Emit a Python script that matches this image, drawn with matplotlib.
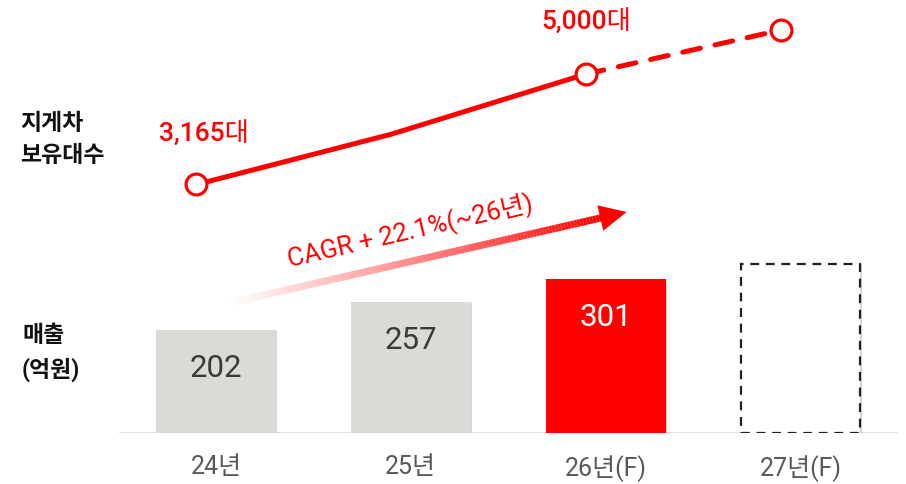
import numpy as np
import matplotlib
matplotlib.use("Agg")
import matplotlib.pyplot as plt
from matplotlib.collections import LineCollection
from matplotlib.patches import Polygon
from matplotlib.transforms import IdentityTransform
import matplotlib.patheffects as pe

FAM = ['Roboto', 'Noto Sans CJK KR', 'DejaVu Sans']
plt.rcParams['font.family'] = FAM

categories = ['24년', '25년', '26년(F)', '27년(F)']
sales = [202, 257, 301, 331]          # 억원 (27년 is an empty forecast box)
sales_labels = ['202', '257', '301', '']
fleet = [3165, 4000, 5000, 5730]      # 지게차 보유대수
fleet_marker = [True, False, True, True]
fleet_labels = {0: '3,165대', 2: '5,000대'}
cagr_text = 'CAGR + 22.1%(~26년)'

RED = '#FF0000'
GREY = '#DCDAD6'

fig = plt.figure(figsize=(9.06, 4.85), dpi=100)
ax = fig.add_axes([118.5 / 906, 1 - 434 / 485, 779.5 / 906, 434 / 485])
ax.set_xlim(-0.5, 3.5)
ax.set_ylim(0, 434 / 0.51)
for s in ax.spines.values():
    s.set_visible(False)
ax.set_yticks([])
x = np.arange(len(categories))
ax.set_xticks(x, categories)
ax.tick_params(axis='x', length=0, pad=15, labelsize=18, labelcolor='#595959')

colors = [GREY, GREY, RED, 'white']
bars = ax.bar(x, sales, width=0.615, color=colors, zorder=2)
shadow = [pe.SimplePatchShadow(offset=(0.8, -0.8), shadow_rgbFace='#888888', alpha=0.35), pe.Normal()]
for i, b in enumerate(bars):
    b.set_path_effects(shadow)
bars[3].set_edgecolor('#222222')
bars[3].set_linestyle((0, (4, 3)))
bars[3].set_linewidth(1.6)
ax.axhline(0, color='#D9D9D9', lw=1.8, zorder=1)

txtcol = ['#3A3A3A', '#3A3A3A', 'white', '#3A3A3A']
for i, (v, lab) in enumerate(zip(sales, sales_labels)):
    if lab:
        ax.annotate(lab, (x[i], v), xytext=(0, -27), textcoords='offset points',
                    ha='center', va='center', fontsize=22.5, color=txtcol[i], zorder=4)

# line axis
ax2 = ax.twinx()
ax2.set_ylim(-962, 6245)
ax2.set_yticks([])
for s in ax2.spines.values():
    s.set_visible(False)
lx = x - 0.1
ax2.plot(lx[:3], fleet[:3], color=RED, lw=3.6, solid_capstyle='round', zorder=3)
ax2.plot(lx[2:], fleet[2:], color=RED, lw=3.6, ls=(0, (3.6, 3.0)), dash_capstyle='round', zorder=3)
mk = np.array(fleet_marker)
ax2.plot(lx[mk], np.array(fleet)[mk], ls='none', marker='o', ms=15, mfc='white', mec=RED, mew=2.3, zorder=4)
offs = {0: (5.5, 37), 2: (0, 38)}
for i, lab in fleet_labels.items():
    ax2.annotate(lab, (lx[i], fleet[i]), xytext=offs[i], textcoords='offset points',
                 ha='center', va='center', fontsize=19, color=RED, fontweight='medium')

# CAGR gradient arrow (in bar-axis coords)
tail = np.array([(225 - 216) / 195, (434 - 305) / 0.51])
tip = np.array([(627 - 216) / 195, (434 - 213) / 0.51])
fig.canvas.draw()
T = ax.transData
p0 = T.transform(tail)
p1 = T.transform(tip)
d = (p1 - p0) / np.linalg.norm(p1 - p0)
nrm = np.array([-d[1], d[0]])
head_len = 27
head_w = 13
base = p1 - d * head_len
n = 120
pts = np.linspace(p0, base + d * 2, n + 1)
segs = np.stack([pts[:-1], pts[1:]], axis=1)
alphas = np.linspace(0.0, 1.0, n) ** 1.1
cols = np.zeros((n, 4))
cols[:, 0] = 1.0
cols[:, 3] = alphas
lc = LineCollection(segs, colors=cols, linewidths=5.2, transform=IdentityTransform(), capstyle='butt', zorder=3)
ax.add_collection(lc)
head = Polygon([p1, base + nrm * head_w, base - nrm * head_w], closed=True,
               facecolor=RED, edgecolor='none', transform=IdentityTransform(), zorder=3)
ax.add_patch(head)

ax.text((410 - 216) / 195, (434 - 232) / 0.51, cagr_text, rotation=13, ha='center', va='center',
        fontsize=18.5, color=RED, rotation_mode='anchor', zorder=4)

# left labels
fig.text(20 / 906, 1 - 140 / 485, '지게차\n보유대수', ha='left', va='center', fontsize=16.5,
         fontweight='bold', color='#111111', linespacing=1.5)
fig.text(22 / 906, 1 - 353 / 485, '매출\n(억원)', ha='left', va='center', fontsize=16.5,
         fontweight='bold', color='#111111', linespacing=1.55)

fig.savefig('out.png', dpi=100)
